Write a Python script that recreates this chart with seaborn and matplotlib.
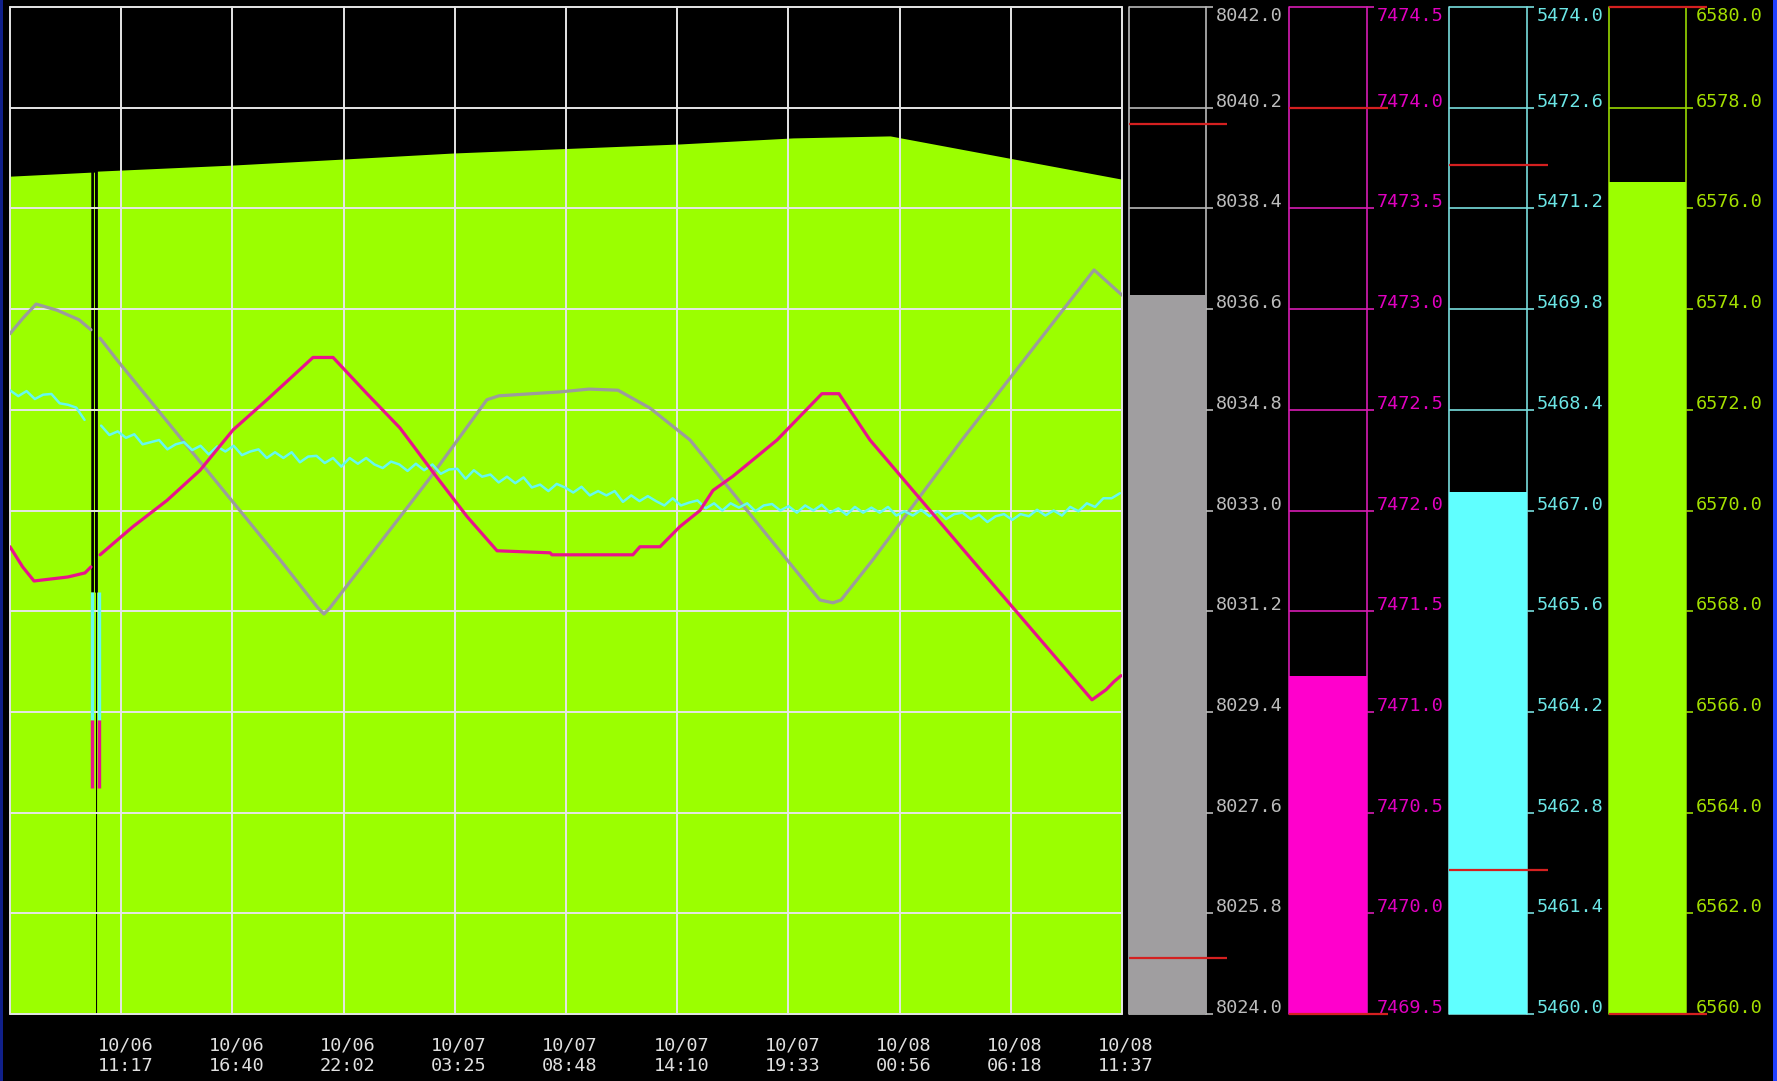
import numpy as np
import pandas as pd
import matplotlib
matplotlib.use("Agg")
import matplotlib.pyplot as plt
from matplotlib.transforms import ScaledTranslation, blended_transform_factory
from matplotlib.patches import Rectangle
import seaborn as sns

# ---------------- data ----------------
time_span_h = 53.7
time_tick_labels = ["10/06\n11:17", "10/06\n16:40", "10/06\n22:02", "10/07\n03:25",
                    "10/07\n08:48", "10/07\n14:10", "10/07\n19:33", "10/08\n00:56",
                    "10/08\n06:18", "10/08\n11:37"]

# green series (area, scale 6560-6580)
green_t = [0.0, 3.90, 3.90, 4.03, 4.03, 4.08, 4.08, 4.13, 4.13, 4.18, 4.18, 4.22, 4.22,
           10.72, 16.08, 21.39, 32.35, 37.81, 42.50, 48.10, 53.70]
green_v = [6576.64, 6576.72, 6568.38, 6568.38, 6576.72, 6576.72, 6568.38, 6568.38, 6560.0,
           6560.0, 6568.38, 6568.38, 6576.74,
           6576.86, 6576.98, 6577.10, 6577.28, 6577.40, 6577.44, 6577.01, 6576.58]

# gray series (scale 8024-8042)
gray_t = [0.0, 0.63, 1.26, 2.27, 3.33, 3.91, 4.10, 4.35, 5.17, 9.18, 13.04, 14.87, 15.16,
          15.45, 17.24, 20.28, 23.03, 23.61, 26.56, 27.96, 29.36, 30.91, 32.84, 37.52,
          39.11, 39.74, 40.13, 41.67, 45.97, 52.35, 53.70]
gray_v = [8036.16, 8036.44, 8036.69, 8036.58, 8036.41, 8036.23, np.nan, 8036.08, 8035.69,
          8033.87, 8032.12, 8031.26, 8031.15, 8031.26, 8032.12, 8033.58, 8034.98, 8035.05,
          8035.12, 8035.17, 8035.15, 8034.83, 8034.26, 8032.12, 8031.40, 8031.35, 8031.40,
          8032.12, 8034.26, 8037.30, 8036.85]

# magenta series (scale 7469.5-7474.5)
magenta_t = [0.0, 0.61, 1.16, 2.80, 3.62, 3.91, 4.10, 4.35, 5.94, 7.58, 9.18, 10.77, 12.41,
             14.00, 14.63, 15.60, 17.24, 18.83, 20.43, 22.07, 23.52, 26.08, 26.17, 30.08,
             30.42, 31.39, 32.35, 33.32, 33.95, 34.91, 37.04, 39.21, 40.03, 41.53, 46.50,
             52.25, 52.93, 53.31, 53.65]
magenta_v = [7471.82, 7471.72, 7471.65, 7471.67, 7471.69, 7471.72, np.nan, 7471.78, 7471.92,
             7472.05, 7472.20, 7472.40, 7472.55, 7472.70, 7472.76, 7472.76, 7472.58, 7472.41,
             7472.19, 7471.97, 7471.80, 7471.79, 7471.78, 7471.78, 7471.82, 7471.82, 7471.92,
             7472.00, 7472.10, 7472.17, 7472.35, 7472.58, 7472.58, 7472.35, 7471.75, 7471.06,
             7471.11, 7471.15, 7471.18]

# cyan series (scale 5460-5474), one sample every 0.4 h
cyan_step_h = 0.4
cyan_v = [5468.67, 5468.59, 5468.66, 5468.55, 5468.61, 5468.62, 5468.49, 5468.47, 5468.43, 5468.26,
          np.nan, 5468.18, 5468.05, 5468.10, 5468.01, 5468.06, 5467.92, 5467.95, 5467.98, 5467.85,
          5467.92, 5467.95, 5467.84, 5467.90, 5467.78, 5467.89, 5467.82, 5467.90, 5467.77, 5467.82,
          5467.85, 5467.73, 5467.81, 5467.73, 5467.81, 5467.67, 5467.75, 5467.76, 5467.66, 5467.73,
          5467.61, 5467.73, 5467.65, 5467.73, 5467.64, 5467.59, 5467.68, 5467.64, 5467.55, 5467.65,
          5467.56, 5467.64, 5467.51, 5467.57, 5467.58, 5467.44, 5467.56, 5467.47, 5467.50, 5467.39,
          5467.47, 5467.38, 5467.46, 5467.32, 5467.36, 5467.27, 5467.37, 5467.32, 5467.25, 5467.33,
          5467.21, 5467.27, 5467.21, 5467.27, 5467.12, 5467.21, 5467.13, 5467.20, 5467.13, 5467.07,
          5467.17, 5467.07, 5467.11, 5467.14, 5467.03, 5467.10, 5467.00, 5467.10, 5467.04, 5467.10,
          5466.99, 5467.07, 5467.09, 5467.00, 5467.06, 5466.97, 5467.07, 5467.00, 5467.08, 5466.97,
          5467.03, 5466.94, 5467.05, 5466.97, 5467.04, 5466.97, 5467.05, 5466.93, 5466.99, 5466.93,
          5467.01, 5466.92, 5466.99, 5466.88, 5466.95, 5466.97, 5466.88, 5466.94, 5466.84, 5466.92,
          5466.95, 5466.87, 5466.95, 5466.92, 5467.01, 5466.93, 5467.00, 5466.93, 5467.05, 5466.99,
          5467.10, 5467.05, 5467.17, 5467.17, 5467.24]
cyan_t = np.arange(len(cyan_v)) * cyan_step_h

# data dropout markers
dropout_t = [3.96, 4.30]
cyan_dropout = (5464.09, 5465.87)
magenta_dropout = (7470.62, 7470.96)

# bar gauges: gray, magenta, cyan, green
gauge_lo = [8024.0, 7469.5, 5460.0, 6560.0]
gauge_hi = [8042.0, 7474.5, 5474.0, 6580.0]
gauge_value = [8036.85, 7471.18, 5467.26, 6576.52]
alarm_high = [8039.9, 7474.0, 5471.8, 6580.0]
alarm_low = [8025.0, 7469.5, 5462.0, 6560.0]

# ---------------- style ----------------
sns.set_theme(style="dark")
plt.rcParams["font.family"] = ["DejaVu Sans Mono", "DejaVu Sans"]

W, H = 1777, 1081
DPI = 100
fig = plt.figure(figsize=(W / DPI, H / DPI), dpi=DPI, facecolor="black")

def px_axes(x0, y0, x1, y1):
    return fig.add_axes([x0 / W, 1 - y1 / H, (x1 - x0) / W, (y1 - y0) / H])

FS = 13.3
GRID_C = "#e6e6e6"
GREEN = "#9bff00"
RED = "#d42020"

plot_top, plot_bot = 7, 1014
ax = px_axes(10, plot_top, 1122, plot_bot)
ax.set_facecolor("black")
for s in ax.spines.values():
    s.set_visible(False)
ax.set_xlim(0, time_span_h)
ax.set_ylim(gauge_lo[3], gauge_hi[3])

ax.fill_between(green_t, gauge_lo[3], green_v, color=GREEN, lw=0, zorder=1)

tick_pos = np.linspace(0, time_span_h, 11)
green_grid = np.linspace(gauge_lo[3], gauge_hi[3], 11)
for gx in tick_pos:
    ax.axvline(gx, color=GRID_C, lw=1.4, zorder=2, clip_on=False)
for gy in green_grid:
    ax.axhline(gy, color=GRID_C, lw=1.4, zorder=2, clip_on=False)

ax.set_xticks(tick_pos)
ax.set_xticklabels([""] * len(tick_pos))
ax.set_yticks([])
ax.tick_params(axis="x", length=11.5, width=1.4, color=GRID_C, direction="out", pad=2)
ax.grid(False)

lab_tr = blended_transform_factory(ax.transData, ax.transAxes) + \
    ScaledTranslation(4 / DPI, -23 / DPI, fig.dpi_scale_trans)
for pos, lab in zip(tick_pos[1:], time_tick_labels):
    ax.text(pos, 0, lab, transform=lab_tr, ha="center", va="top", color="#e0e0e0",
            fontsize=FS, linespacing=1.15, multialignment="center")


def draw_series(axx, t, v, color, lw):
    df = pd.DataFrame({"t": np.asarray(t, float), "v": np.asarray(v, float)})
    ok = df["v"].notna()
    seg = (~ok).cumsum()
    for _, part in df[ok].groupby(seg[ok]):
        sns.lineplot(data=part, x="t", y="v", ax=axx, color=color, linewidth=lw,
                     estimator=None, sort=False, legend=False)


ax_gray = ax.twinx()
ax_cyan = ax.twinx()
ax_mag = ax.twinx()

draw_series(ax_gray, gray_t, gray_v, "#9c9c9c", 2.3)
ax_gray.set_ylim(gauge_lo[0], gauge_hi[0])

draw_series(ax_cyan, cyan_t, cyan_v, "#66f8f0", 1.8)
ax_cyan.vlines(dropout_t, cyan_dropout[0], cyan_dropout[1], color="#66f8f0", lw=2.4)
ax_cyan.set_ylim(gauge_lo[2], gauge_hi[2])

draw_series(ax_mag, magenta_t, magenta_v, "#e8148c", 2.3)
ax_mag.vlines(dropout_t, magenta_dropout[0], magenta_dropout[1], color="#e8148c", lw=2.4)
ax_mag.set_ylim(gauge_lo[1], gauge_hi[1])

for a in (ax_gray, ax_cyan, ax_mag):
    a.set_axis_off()
    a.set_xlim(0, time_span_h)
ax.set_xlabel("")
ax.set_ylabel("")

# ---------------- gauges ----------------
gauge_px = [(1129, 1206), (1289, 1367), (1449, 1527), (1609, 1686)]
bar_colors = ["#a09ea0", "#ff00cc", "#60ffff", GREEN]
line_colors = ["#b8b8b8", "#d81cb4", "#78dede", "#98d800"]
text_colors = ["#bcbcbc", "#e000c0", "#6ce6e6", "#a4e000"]

for i, (x0, x1) in enumerate(gauge_px):
    g = px_axes(x0, plot_top, x1, plot_bot)
    g.set_axis_off()
    g.set_xlim(0, 1)
    lo, hi = gauge_lo[i], gauge_hi[i]
    g.set_ylim(lo, hi)
    wpx = x1 - x0
    ticks = np.linspace(lo, hi, 11)
    for k, tv in enumerate(ticks):
        g.plot([0, 1 + 7 / wpx], [tv, tv], color=line_colors[i], lw=1.2, clip_on=False,
               zorder=1, solid_capstyle="butt")
        if k == len(ticks) - 1:
            tr = g.transData
            va = "top"
        else:
            tr = g.transData + ScaledTranslation(0, 1 / DPI, fig.dpi_scale_trans)
            va = "baseline"
        g.text(1 + 10 / wpx, tv, f"{tv:.1f}", transform=tr, ha="left", va=va,
               color=text_colors[i], fontsize=FS, clip_on=False)
    g.plot([0, 0], [lo, hi], color=line_colors[i], lw=1.2, zorder=1, clip_on=False)
    g.plot([1, 1], [lo, hi], color=line_colors[i], lw=1.2, zorder=1, clip_on=False)
    g.bar(0.5, gauge_value[i] - lo, bottom=lo, width=1.0, color=bar_colors[i], lw=0, zorder=2)
    for av in (alarm_high[i], alarm_low[i]):
        g.plot([0, 1 + 21 / wpx], [av, av], color=RED, lw=1.6, zorder=3, clip_on=False,
               solid_capstyle="butt")

# window border
fig.add_artist(Rectangle((0, 0), 2.5 / W, 1, transform=fig.transFigure, color="#10208a", lw=0))
fig.add_artist(Rectangle(((W - 4) / W, 0), 4 / W, 1, transform=fig.transFigure, color="#2040ff", lw=0))

fig.savefig("out.png", dpi=DPI, facecolor="black")
